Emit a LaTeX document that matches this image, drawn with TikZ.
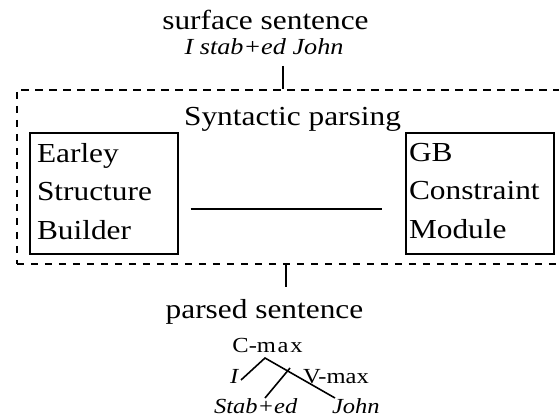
\documentclass[tikz,border=0pt]{standalone}
\usepackage{fontspec}
\setmainfont{Liberation Serif}[FakeStretch=1.14]
\usetikzlibrary{calc}
\tikzset{
  txt/.style={inner sep=0pt, outer sep=0pt, font=\fontsize{27.5}{38.5}\selectfont},
  sent/.style={inner sep=0pt, outer sep=0pt, font=\fontsize{23}{28}\selectfont\itshape},
  tree/.style={inner sep=0pt, outer sep=0pt, font=\fontsize{21.5}{26}\selectfont},
  treeit/.style={tree, font=\fontsize{21.5}{26}\selectfont\itshape},
  modbox/.style={draw, line width=1.5pt, inner sep=0pt, minimum width=148pt, minimum height=121pt},
  ln/.style={line width=1.6pt},
  dashbox/.style={draw, line width=1.8pt, dash pattern=on 7.5pt off 6.5pt, inner sep=0pt}
}
\begin{document}
\begin{tikzpicture}[x=1pt,y=-1pt]
\clip (0,0) rectangle (559,417);
\fill[white] (0,0) rectangle (559,417);
% top
\node[txt, anchor=base] (surf) at (265.5,30) {surface sentence};
\node[sent, anchor=base] (isj) at (264,55) {I stab+ed John};
% dashed box
\node[dashbox, anchor=north west, minimum width=570pt, minimum height=174pt] (synt) at (16,89) {};
\node[txt, anchor=base] (synlabel) at (292.5,125) {Syntactic parsing};
\coordinate (tick1top) at (283,66);
\draw[ln] (tick1top) -- (tick1top |- synt.north);
% module boxes
\node[modbox, anchor=north west] (earley) at (29,132) {};
\node[txt, anchor=north west, align=left] (earleytxt) at (37,143) {Earley\\Structure\\Builder};
\node[modbox, anchor=north west] (gb) at (405,132) {};
\node[txt, anchor=north west, align=left] (gbtxt) at (409,143) {GB\\Constraint\\Module};
\draw[ln] ($(earley.east)+(12,15.5)$) -- ($(gb.west)+(-23,15.5)$);
% bottom
\coordinate (tick2bot) at (286,287);
\draw[ln] (tick2bot |- synt.south) -- (tick2bot);
\node[txt, anchor=base] (parsed) at (264.5,318) {parsed sentence};
% tree
\node[tree, anchor=base] (cmax) at (267.5,352) {C-{\addfontfeature{LetterSpace=8}max}};
\node[treeit, anchor=base west] (ii) at (230,383) {I};
\node[tree, anchor=base west] (vmax) at (303,383) {V-max};
\node[treeit, anchor=base west] (stab) at (214,413) {Stab+ed};
\node[treeit, anchor=base west] (john) at (332,413) {John};
\coordinate (apex) at (265,358);
\coordinate (iend) at (241,380);
\coordinate (jend) at (335,398);
\coordinate (vtop) at (290,368);
\coordinate (send) at (265,398);
\draw[ln] (iend) -- (apex) -- (jend);
\draw[ln] (vtop) -- (send);
\end{tikzpicture}
\end{document}
